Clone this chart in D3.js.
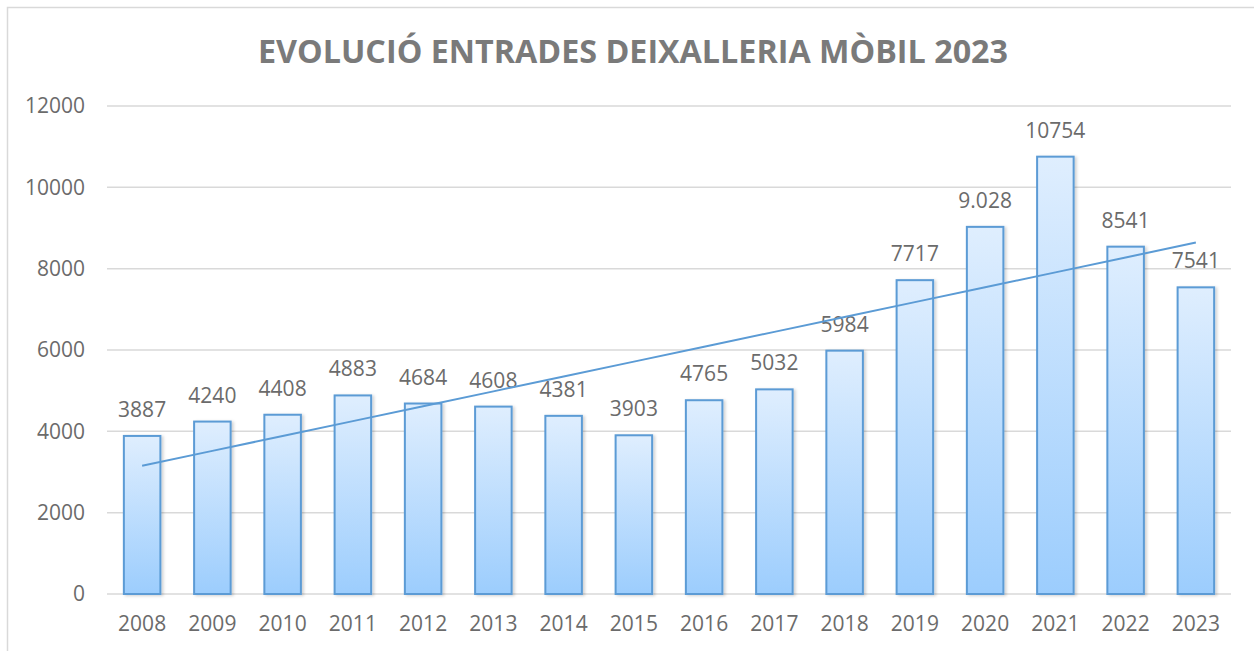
<!DOCTYPE html>
<html>
<head>
<meta charset="utf-8">
<script src="https://cdn.jsdelivr.net/npm/d3@7"></script>
<style>
  body { margin: 0; background: #fff; }
  svg { display: block; font-family: "Open Sans", "Noto Sans", sans-serif; }
</style>
</head>
<body>
<div id="chart"></div>
<script>
// chart data
const years = ["2008","2009","2010","2011","2012","2013","2014","2015","2016","2017","2018","2019","2020","2021","2022","2023"];
const entrades = [3887, 4240, 4408, 4883, 4684, 4608, 4381, 3903, 4765, 5032, 5984, 7717, 9028, 10754, 8541, 7541];
const valueLabels = ["3887","4240","4408","4883","4684","4608","4381","3903","4765","5032","5984","7717","9.028","10754","8541","7541"];
const yTicks = [0, 2000, 4000, 6000, 8000, 10000, 12000];
const title = "EVOLUCIÓ ENTRADES DEIXALLERIA MÒBIL 2023";

const W = 1254, H = 651;
const margin = {top: 106, right: 23, bottom: 57, left: 107},
  width = W - margin.left - margin.right,
  height = H - margin.top - margin.bottom;

const svg = d3.select("#chart").append("svg")
  .attr("width", W).attr("height", H);

// chart frame (runs off the right and bottom edges)
svg.append("rect")
  .attr("x", 7.5).attr("y", 7.5)
  .attr("width", W + 50).attr("height", H + 50)
  .attr("fill", "none").attr("stroke", "#d9d9d9").attr("stroke-width", 1.5);

const defs = svg.append("defs");
const grad = defs.append("linearGradient").attr("id", "barGrad")
  .attr("x1", 0).attr("y1", 0).attr("x2", 0).attr("y2", 1);
grad.append("stop").attr("offset", "0%").attr("stop-color", "#dfeefe");
grad.append("stop").attr("offset", "100%").attr("stop-color", "#9ccdfd");
const shadow = defs.append("filter").attr("id", "shadow")
  .attr("x", "-20%").attr("y", "-5%").attr("width", "150%").attr("height", "115%");
shadow.append("feDropShadow").attr("dx", 2).attr("dy", 1).attr("stdDeviation", 1.5)
  .attr("flood-color", "#000").attr("flood-opacity", 0.18);

// title
svg.append("text")
  .attr("x", 633).attr("y", 63)
  .attr("text-anchor", "middle")
  .attr("font-size", 32).attr("font-weight", "bold")
  .attr("fill", "#7a7a7a")
  .attr("textLength", 750).attr("lengthAdjust", "spacingAndGlyphs")
  .text(title);

const g = svg.append("g")
  .attr("transform", "translate(" + margin.left + "," + margin.top + ")");

const x = d3.scaleBand().domain(years).range([0, width]).paddingInner(0.48).paddingOuter(0.24);
const y = d3.scaleLinear().domain([0, 12000]).range([height, 0]);

const textColor = "#6b6b6b";

// gridlines
g.append("g")
  .selectAll("line").data(yTicks).join("line")
  .attr("x1", 0).attr("x2", width)
  .attr("y1", d => y(d)).attr("y2", d => y(d))
  .attr("stroke", "#d9d9d9").attr("stroke-width", 1.5);

// y axis labels
const yAxis = g.append("g")
  .call(d3.axisLeft(y).tickValues(yTicks).tickSize(0).tickPadding(22).tickFormat(d3.format("d")));
yAxis.select(".domain").remove();
yAxis.selectAll("text")
  .attr("font-size", 21).attr("fill", textColor)
  .attr("font-family", "'Open Sans', sans-serif");

// x axis labels
const xAxis = g.append("g")
  .attr("transform", "translate(0," + height + ")")
  .call(d3.axisBottom(x).tickSize(0).tickPadding(22));
xAxis.select(".domain").remove();
xAxis.selectAll("text")
  .attr("font-size", 21).attr("fill", textColor)
  .attr("font-family", "'Open Sans', sans-serif");

// bars
g.append("g")
  .selectAll("rect").data(entrades).join("rect")
  .attr("x", (d, i) => x(years[i]))
  .attr("y", d => y(d))
  .attr("width", x.bandwidth())
  .attr("height", d => height - y(d))
  .attr("fill", "url(#barGrad)")
  .attr("stroke", "#5b9bd5").attr("stroke-width", 2)
  .attr("filter", "url(#shadow)");

// value labels
g.append("g")
  .selectAll("text").data(entrades).join("text")
  .attr("x", (d, i) => x(years[i]) + x.bandwidth() / 2)
  .attr("y", d => y(d) - 19)
  .attr("text-anchor", "middle")
  .attr("font-size", 21).attr("fill", textColor)
  .text((d, i) => valueLabels[i]);

// linear trendline (least squares over the series)
const n = entrades.length;
const xs = d3.range(n);
const mx = d3.mean(xs), my = d3.mean(entrades);
const slope = d3.sum(xs, i => (i - mx) * (entrades[i] - my)) / d3.sum(xs, i => (i - mx) * (i - mx));
const icpt = my - slope * mx;
g.append("path")
  .datum(xs)
  .attr("fill", "none")
  .attr("stroke", "#5b9bd5").attr("stroke-width", 2)
  .attr("d", d3.line()
    .x(i => x(years[i]) + x.bandwidth() / 2)
    .y(i => y(icpt + slope * i)));
</script>
</body>
</html>
